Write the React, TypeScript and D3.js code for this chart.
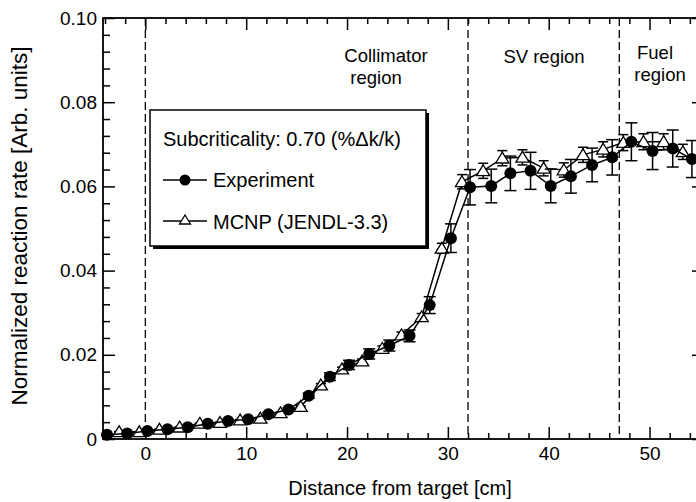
import React, { useEffect, useRef } from 'react';
import * as d3 from 'd3';

// experiment (filled circles)
const expX = [-3.8, -1.8, 0.2, 2.2, 4.2, 6.2, 8.2, 10.2, 12.2, 14.2, 16.2, 18.3, 20.2, 22.2, 24.2, 26.2, 28.2, 30.3, 32.2, 34.3, 36.2, 38.2, 40.2, 42.2, 44.3, 46.3, 48.2, 50.3, 52.3, 54.2];
const expY = [0.001, 0.0013, 0.0019, 0.0023, 0.0028, 0.0036, 0.0043, 0.0047, 0.0059, 0.007, 0.0103, 0.0148, 0.0176, 0.0202, 0.0222, 0.0245, 0.0318, 0.0477, 0.0598, 0.0601, 0.0631, 0.0637, 0.0601, 0.0624, 0.0651, 0.0669, 0.0706, 0.0684, 0.069, 0.0665];
const expErr = [0.0001, 0.0001, 0.0001, 0.00015, 0.0002, 0.0002, 0.00025, 0.0003, 0.0004, 0.0004, 0.0006, 0.0009, 0.0011, 0.0012, 0.0013, 0.0014, 0.002, 0.0034, 0.0042, 0.004, 0.0041, 0.0044, 0.004, 0.004, 0.004, 0.0042, 0.0045, 0.0044, 0.0044, 0.0044];

// MCNP (open triangles)
const mcnpX = [-2.6, -0.6, 1.4, 3.4, 5.4, 7.4, 9.4, 11.4, 13.4, 15.4, 17.4, 19.5, 21.5, 23.5, 25.4, 27.4, 29.4, 31.4, 33.5, 35.4, 37.4, 39.5, 41.5, 43.4, 45.4, 47.4, 49.4, 51.4, 53.3];
const mcnpY = [0.0017, 0.0017, 0.0023, 0.0028, 0.0037, 0.0039, 0.0045, 0.0049, 0.0062, 0.0077, 0.0128, 0.0166, 0.0185, 0.0215, 0.0247, 0.029, 0.0453, 0.0611, 0.0637, 0.0667, 0.0669, 0.0643, 0.0639, 0.0675, 0.0688, 0.0704, 0.0706, 0.0706, 0.0682];
const mcnpErr = [0.00005, 0.00005, 0.00006, 0.00008, 0.0001, 0.0001, 0.00012, 0.00013, 0.00017, 0.0002, 0.00035, 0.00045, 0.0005, 0.0006, 0.0007, 0.0008, 0.0012, 0.0017, 0.0018, 0.0018, 0.0018, 0.0018, 0.0017, 0.0018, 0.0018, 0.0019, 0.0019, 0.0019, 0.0018];

const xMajor = [0, 10, 20, 30, 40, 50];
const xMinor = [-4, -2, 2, 4, 6, 8, 12, 14, 16, 18, 22, 24, 26, 28, 32, 34, 36, 38, 42, 44, 46, 48, 52, 54];
const yMajor = [0, 0.02, 0.04, 0.06, 0.08, 0.1];
const yLabels = ['0', '0.02', '0.04', '0.06', '0.08', '0.10'];
const yMinor = [0.004, 0.008, 0.012, 0.016, 0.024, 0.028, 0.032, 0.036, 0.044, 0.048, 0.052, 0.056, 0.064, 0.068, 0.072, 0.076, 0.084, 0.088, 0.092, 0.096];
const boundaries = [0, 32, 47];

const FONT = '"Liberation Sans", Arial, Helvetica, sans-serif';

const App = () => {
  const ref = useRef<SVGSVGElement>(null);

  useEffect(() => {
    const svg = d3.select(ref.current);
    svg.selectAll('*').remove();

    const left = 103, right = 704, top = 18, bottom = 439;
    const x = d3.scaleLinear().domain([-4.2, 55.4]).range([left, right]);
    const y = d3.scaleLinear().domain([0, 0.1]).range([bottom, top]);

    svg.append('rect').attr('width', 696).attr('height', 502).attr('fill', '#fff');

    // region boundaries
    svg.append('g').selectAll('line').data(boundaries).join('line')
      .attr('x1', (d) => x(d)).attr('x2', (d) => x(d))
      .attr('y1', top).attr('y2', bottom)
      .attr('stroke', '#000').attr('stroke-width', 1.3).attr('stroke-dasharray', '8,4');

    // ticks
    const tick = (g, axis) => {
      g.call(axis);
      g.select('.domain').remove();
      g.selectAll('line').attr('stroke', '#000').attr('stroke-width', 1.5);
      g.selectAll('text').attr('font-family', FONT).attr('font-size', 19).attr('fill', '#000');
    };
    tick(svg.append('g').attr('transform', `translate(0,${bottom})`),
      d3.axisBottom(x).tickValues(xMajor).tickSize(-12).tickPadding(8).tickFormat(d3.format('d')));
    tick(svg.append('g').attr('transform', `translate(0,${bottom})`),
      d3.axisBottom(x).tickValues(xMinor).tickSize(-6).tickFormat(() => ''));
    tick(svg.append('g').attr('transform', `translate(0,${top})`),
      d3.axisTop(x).tickValues(xMajor).tickSize(-12).tickFormat(() => ''));
    tick(svg.append('g').attr('transform', `translate(0,${top})`),
      d3.axisTop(x).tickValues(xMinor).tickSize(-6).tickFormat(() => ''));
    tick(svg.append('g').attr('transform', `translate(${left},0)`),
      d3.axisLeft(y).tickValues(yMajor).tickSize(-12).tickPadding(6).tickFormat((d, i) => yLabels[i]));
    tick(svg.append('g').attr('transform', `translate(${left},0)`),
      d3.axisLeft(y).tickValues(yMinor).tickSize(-7).tickFormat(() => ''));
    tick(svg.append('g').attr('transform', `translate(${right},0)`),
      d3.axisRight(y).tickValues(yMajor).tickSize(-12).tickFormat(() => ''));
    tick(svg.append('g').attr('transform', `translate(${right},0)`),
      d3.axisRight(y).tickValues(yMinor).tickSize(-7).tickFormat(() => ''));

    // frame
    svg.append('rect').attr('x', left).attr('y', top)
      .attr('width', right - left).attr('height', bottom - top)
      .attr('fill', 'none').attr('stroke', '#000').attr('stroke-width', 1.8);

    // axis titles
    svg.append('text').attr('x', 400).attr('y', 495).attr('text-anchor', 'middle')
      .attr('font-family', FONT).attr('font-size', 20).text('Distance from target [cm]');
    svg.append('text').attr('transform', 'translate(27,226) rotate(-90)').attr('text-anchor', 'middle')
      .attr('font-family', FONT).attr('font-size', 22.5).text('Normalized reaction rate [Arb. units]');

    // region labels
    const label = (tx, ty, s) =>
      svg.append('text').attr('x', tx).attr('y', ty).attr('text-anchor', 'middle')
        .attr('font-family', FONT).attr('font-size', 18.5).text(s);
    label(386, 62, 'Collimator');
    label(376, 84, 'region');
    label(544, 63, 'SV region');
    label(655, 59, 'Fuel');
    label(660, 81, 'region');

    const tri = (cx, cy, s) => `M${cx},${cy - s}L${cx + s * 1.1},${cy + s * 0.8}L${cx - s * 1.1},${cy + s * 0.8}Z`;

    const drawSeries = (xs, ys, es, cap, marker) => {
      const pts = xs.map((d, i) => [d, ys[i], es[i]]);
      const g = svg.append('g');
      g.append('path').datum(pts)
        .attr('d', d3.line().x((d) => x(d[0])).y((d) => y(d[1])))
        .attr('fill', 'none').attr('stroke', '#000').attr('stroke-width', 1.5);
      const eb = g.selectAll('g.eb').data(pts).join('g').attr('stroke', '#000').attr('stroke-width', 1.5);
      eb.append('line').attr('x1', (d) => x(d[0])).attr('x2', (d) => x(d[0]))
        .attr('y1', (d) => y(d[1] - d[2])).attr('y2', (d) => y(d[1] + d[2]));
      eb.append('line').attr('x1', (d) => x(d[0]) - cap).attr('x2', (d) => x(d[0]) + cap)
        .attr('y1', (d) => y(d[1] + d[2])).attr('y2', (d) => y(d[1] + d[2]));
      eb.append('line').attr('x1', (d) => x(d[0]) - cap).attr('x2', (d) => x(d[0]) + cap)
        .attr('y1', (d) => y(d[1] - d[2])).attr('y2', (d) => y(d[1] - d[2]));
      if (marker === 'circle') {
        g.selectAll('circle').data(pts).join('circle')
          .attr('cx', (d) => x(d[0])).attr('cy', (d) => y(d[1])).attr('r', 6).attr('fill', '#000');
      } else {
        g.selectAll('path.m').data(pts).join('path').attr('class', 'm')
          .attr('d', (d) => tri(x(d[0]), y(d[1]), 6))
          .attr('fill', '#fff').attr('stroke', '#000').attr('stroke-width', 1.3);
      }
    };
    drawSeries(mcnpX, mcnpY, mcnpErr, 5, 'triangle');
    drawSeries(expX, expY, expErr, 6, 'circle');

    // legend
    const lg = svg.append('g');
    lg.append('rect').attr('x', 153).attr('y', 113).attr('width', 276).attr('height', 136).attr('fill', '#000');
    lg.append('rect').attr('x', 150).attr('y', 110).attr('width', 276).attr('height', 136)
      .attr('fill', '#fff').attr('stroke', '#000').attr('stroke-width', 1.5);
    lg.append('text').attr('x', 163).attr('y', 146).attr('font-family', FONT).attr('font-size', 20)
      .text('Subcriticality: 0.70 (%\u0394k/k)');
    lg.append('line').attr('x1', 163).attr('x2', 207).attr('y1', 180).attr('y2', 180).attr('stroke', '#000').attr('stroke-width', 1.5);
    lg.append('circle').attr('cx', 185).attr('cy', 180).attr('r', 5.5).attr('fill', '#000');
    lg.append('text').attr('x', 213).attr('y', 187).attr('font-family', FONT).attr('font-size', 20).text('Experiment');
    lg.append('line').attr('x1', 163).attr('x2', 207).attr('y1', 221).attr('y2', 221).attr('stroke', '#000').attr('stroke-width', 1.5);
    lg.append('path').attr('d', tri(185, 220, 5)).attr('fill', '#fff').attr('stroke', '#000').attr('stroke-width', 1.3);
    lg.append('text').attr('x', 213).attr('y', 229).attr('font-family', FONT).attr('font-size', 20).text('MCNP (JENDL-3.3)');
  }, []);

  return (
    <svg ref={ref} width={696} height={502} style={{ position: 'absolute', left: 0, top: 0 }} />
  );
};

export default App;
